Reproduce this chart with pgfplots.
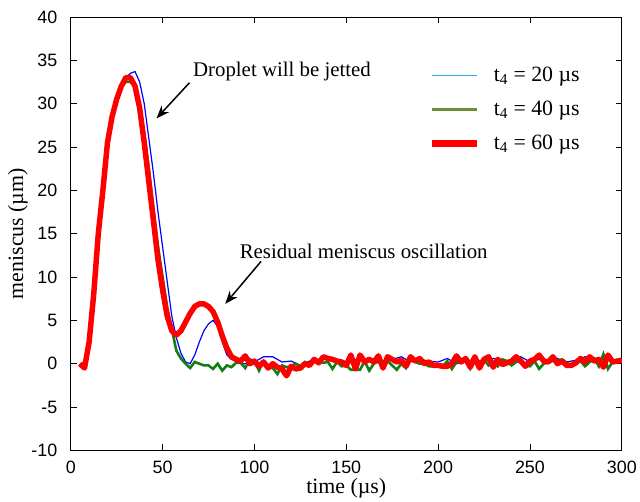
\documentclass[border=0pt]{standalone}
\usepackage{fontspec}
\setmainfont{Liberation Serif}
\newfontfamily\sansf{Liberation Sans}
\usepackage{pgfplots}
\pgfplotsset{compat=1.18}
\usetikzlibrary{arrows.meta}
\definecolor{lgblue}{RGB}{40,175,225}
\definecolor{lggreen}{RGB}{105,140,55}
\definecolor{plgreen}{RGB}{20,125,20}
\begin{document}
\begin{tikzpicture}
\begin{axis}[
  scale only axis, width=553bp, height=435bp,
  xmin=0, xmax=300, ymin=-10, ymax=40,
  xtick={0,50,...,300}, ytick={-10,-5,...,40},
  tick align=inside, major tick length=6bp,
  tick style={black, line width=0.7bp},
  axis line style={line width=0.8bp},
  ticklabel style={font=\sansf\fontsize{18}{22}\selectfont},
  /pgf/number format/assume math mode=true,
  yticklabel style={xshift=-10bp},
  xticklabel style={yshift=-7bp},
  xlabel={time (µs)}, ylabel={meniscus (µm)},
  label style={font=\fontsize{22}{26}\selectfont},
  xlabel style={at={(axis description cs:0.5,-0.087)}, anchor=center},
  ylabel style={at={(axis description cs:-0.096,0.5)}, anchor=center},
  legend style={draw=none, fill=none, at={(0.649,0.892)}, anchor=north west,
    inner sep=0pt, font=\fontsize{22}{26}\selectfont, row sep=10bp,
    nodes={inner sep=1bp, text height=17bp, text depth=5bp}},
  legend cell align=left,
  legend image code/.code={\draw[#1] (0bp,0bp) -- (45bp,0bp); \path (58bp,0bp);},
]
\addplot[blue, line width=1.2bp, forget plot] coordinates {
(5,0) (7.5,-0.3) (10,2) (12.5,7.5) (15,14.5) (17.5,19.5) (20,25) (22.5,28.5) (25,30.5) (27.5,32)
(30,33) (32.5,33.5) (35,33.7) (37.5,32.5) (40,30) (42.5,26) (45,22) (47.5,17.5) (50,13.5) (52.5,9.5)
(55,5.5) (57.5,3) (60,1.2) (62.5,0.2) (65,0) (67.5,1) (70,2.5) (72.5,3.8) (75,4.6) (77.5,5)
(80,4.3) (82.5,2.5) (85,1) (87.5,0.5) (90,0.3) (92.5,0) (95,0) (97.5,0.2)
(100,0.2) (105,0.8) (110,0.8) (115,0.2) (120,0.3) (125,-0.2) (130,0.3) (135,0.5) (140,0.8) (145,0.2)
(150,0.3) (155,0.5) (160,0.4) (165,0.2) (170,0) (175,0.5) (180,0.8) (185,0.2) (190,0.5) (195,0.3)
(200,0.2) (205,0.6) (210,0) (215,0.3) (220,0.5) (225,0.2) (230,0.6) (235,0.4) (240,0.3) (245,0.8)
(250,0.2) (255,0.5) (260,0.3) (265,0.6) (270,0.2) (275,0.4) (280,0.8) (285,0.3) (290,0.5) (295,0.4) (300,0.6)
};
\addplot[plgreen, line width=2.6bp, forget plot] coordinates {
(5,0) (7.5,-0.3) (10,2.2) (12.5,8) (15,15) (17.5,20) (20,25.5) (22.5,28.5) (25,30.5) (27.5,32)
(30,32.5) (32.5,32.5) (35,32) (37.5,29.5) (40,26.5) (42.5,22.5) (45,18) (47.5,13.5) (50,10) (52.5,6.5)
(55,4) (57.5,1.5) (60,0.6) (62.5,0) (65,-0.5) (67.5,0.2) (70,0) (72.5,-0.2) (75,-0.2) (77.5,-0.6)
(80,0) (82.5,-0.8) (85,-0.2) (87.5,-0.4) (90,0.1) (92.5,0.1) (95,-0.5) (97.5,0.5)
(100,0.3) (102.5,-0.8) (105,0.3) (107.5,-0.3) (110,-0.5) (112.5,-1.2) (115,-0.2) (117.5,-0.4) (120,-0.3) (122.5,0)
(125,-0.3) (127.5,0.2) (130,-0.2) (132.5,0.2) (135,0.3) (137.5,0.1) (140,0.2) (142.5,-0.6) (145,0.2) (147.5,-0.3)
(150,-0.2) (152.5,-0.7) (155,-0.7) (157.5,-0.7) (160,0.3) (162.5,-0.8) (165,0) (167.5,0.3) (170,-0.3) (172.5,0.3)
(175,-0.2) (177.5,-0.7) (180,0) (182.5,-0.5) (185,0.5) (187.5,0.2) (190,0) (192.5,0) (195,-0.3) (197.5,-0.3)
(200,-0.2) (202.5,-0.3) (205,0.3) (207.5,-0.6) (210,0.2) (212.5,0.3) (215,0.4) (217.5,-0.6) (220,0.3) (222.5,0.2)
(225,0.5) (227.5,-0.2) (230,0.2) (232.5,-0.3) (235,0.5) (237.5,0.3) (240,-0.2) (242.5,0.2) (245,0.3) (247.5,-0.2)
(250,-0.3) (252.5,0.3) (255,-0.6) (257.5,0) (260,0.2) (262.5,0.3) (265,0.3) (267.5,0.5) (270,0.1) (272.5,-0.2)
(275,0.2) (277.5,0.3) (280,-0.3) (282.5,0.2) (285,0.6) (287.5,-0.3) (290,1.1) (292.5,-0.6) (295,0.2) (297.5,0.3) (300,0.5)
};
\addplot[red, line width=5.5bp, line join=round, forget plot] coordinates {
(5,0) (7.5,-0.5) (10,2.5) (12.5,8) (15,15) (17.5,20) (20,25.5) (22.5,28.5) (25,30.5) (27.5,32)
(30,33) (32.5,33) (35,32) (37.5,29.5) (40,25.5) (42.5,21) (45,16.5) (47.5,12) (50,8.5) (52.5,5.5)
(55,3.8) (57.5,3.3) (60,3.8) (62.5,4.8) (65,5.8) (67.5,6.6) (70,6.9) (72.5,6.9) (75,6.6) (77.5,6)
(80,4.8) (82.5,3.2) (85,1.8) (87.5,0.8) (90,0.5) (92.5,0.3) (95,0.9) (97.5,0)
(100,0.3) (102.5,-0.3) (105,0.2) (107.5,-0.5) (110,0) (112.5,-0.4) (115,-0.6) (117.5,-1.4) (120,-0.3) (122.5,-0.6)
(125,-0.5) (127.5,0) (130,-0.2) (132.5,0.5) (135,0.1) (137.5,0.8) (140,0.6) (142.5,0.5) (145,0.3) (147.5,0.2)
(150,-0.2) (152.5,1) (155,-0.6) (157.5,1) (160,0.2) (162.5,0.5) (165,0.2) (167.5,0.9) (170,-0.5) (172.5,0.8)
(175,0.5) (177.5,0.2) (180,0.4) (182.5,-0.3) (185,0.8) (187.5,0.3) (190,0.6) (192.5,0) (195,0.2) (197.5,-0.2)
(200,-0.2) (202.5,-0.3) (205,-0.3) (207.5,0) (210,0.9) (212.5,0.2) (215,0.6) (217.5,-0.4) (220,0.8) (222.5,-0.5)
(225,0.5) (227.5,0.8) (230,-0.4) (232.5,0.5) (235,-0.1) (237.5,0.1) (240,0.3) (242.5,0.8) (245,0.3) (247.5,-0.3)
(250,0.3) (252.5,0.5) (255,1) (257.5,0.3) (260,0.2) (262.5,0.8) (265,0) (267.5,0.3) (270,-0.2) (272.5,-0.2)
(275,0.1) (277.5,0.6) (280,0.2) (282.5,0.8) (285,0.3) (287.5,0.5) (290,-0.4) (292.5,1) (295,0.2) (297.5,0.3) (300,0.4)
};
\addlegendimage{lgblue, line width=1.1bp}
\addlegendentry{t\textsubscript{4} = 20 µs}
\addlegendimage{lggreen, line width=3.2bp}
\addlegendentry{t\textsubscript{4} = 40 µs}
\addlegendimage{red, line width=6.5bp}
\addlegendentry{t\textsubscript{4} = 60 µs}
\node[font=\fontsize{21}{25}\selectfont] at (axis cs:115,33.7) {Droplet will be jetted};
\draw[-{Stealth[length=13bp,width=10bp]}, line width=1.5bp] (axis cs:64.6,32.4) -- (axis cs:46.7,28.3);
\node[font=\fontsize{21}{25}\selectfont] at (axis cs:159.5,13) {Residual meniscus oscillation};
\draw[-{Stealth[length=13bp,width=10bp]}, line width=1.5bp] (axis cs:103.6,11.8) -- (axis cs:84.1,6.9);
\end{axis}
\path ([xshift=-71bp,yshift=-51bp]current axis.south west) rectangle ([xshift=16bp,yshift=17bp]current axis.north east);
\end{tikzpicture}
\end{document}
